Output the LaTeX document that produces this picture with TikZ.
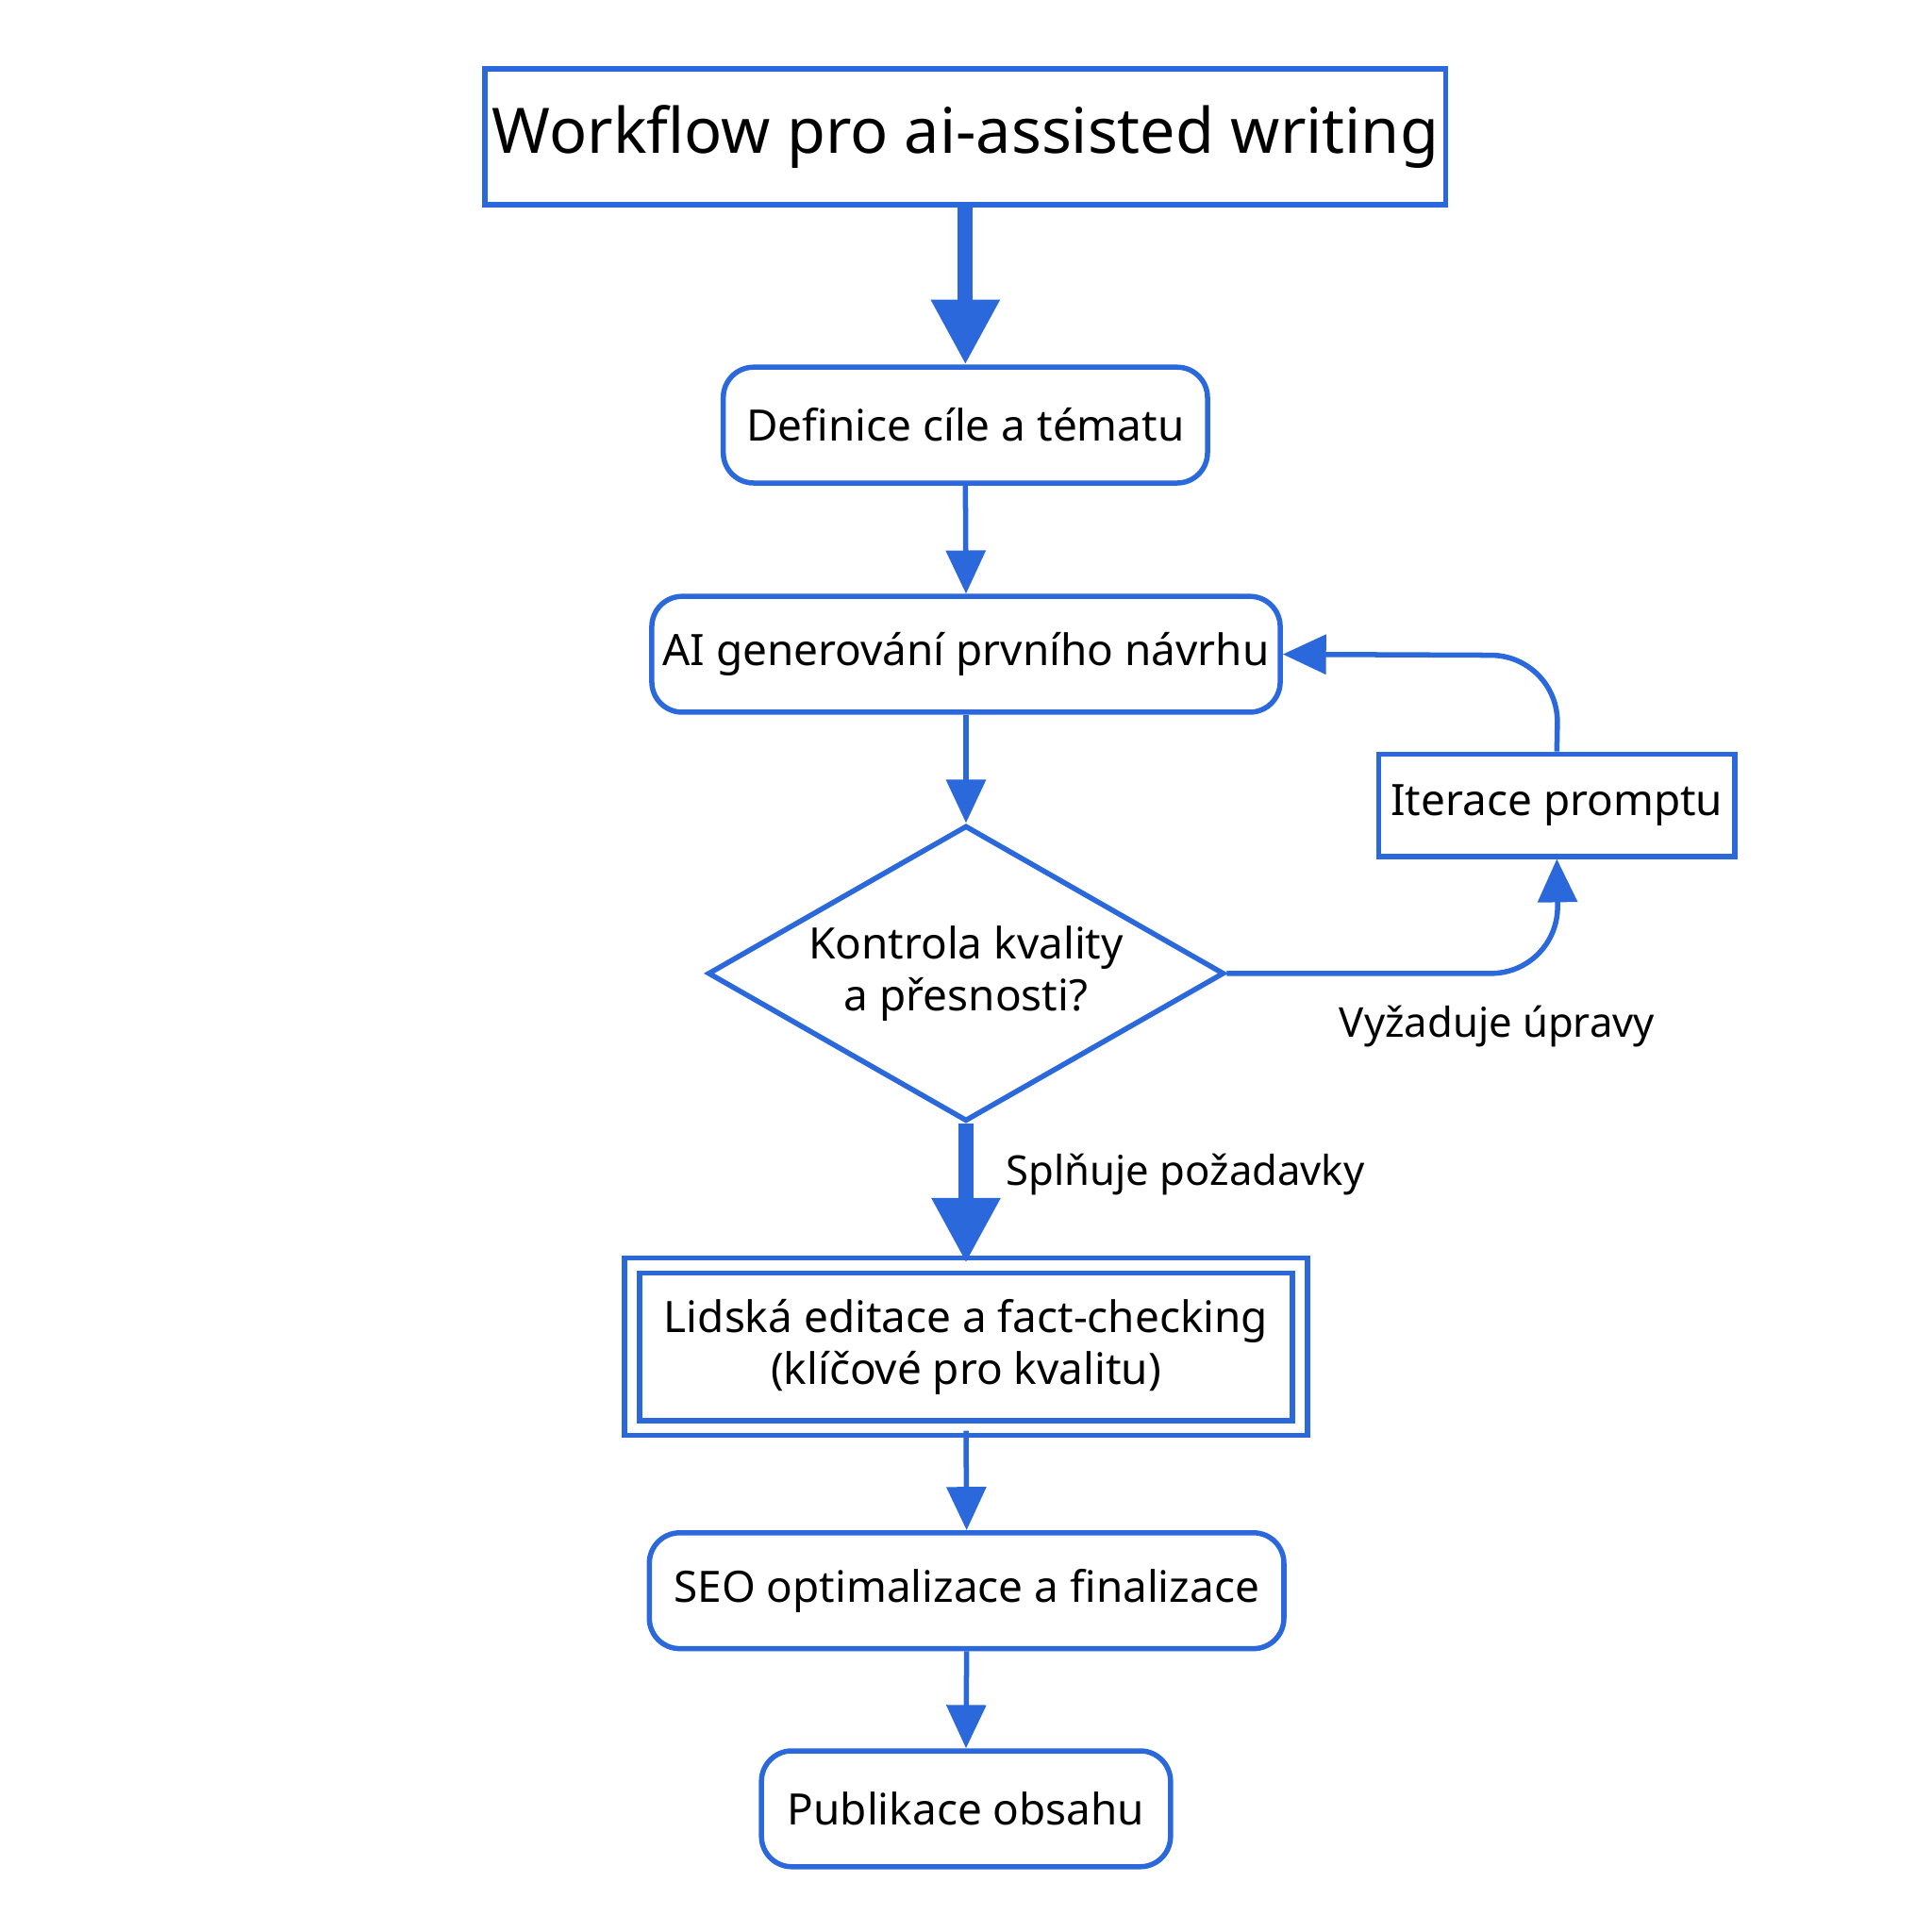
\documentclass[tikz,border=0pt]{standalone}
\usepackage{fontspec}
\setmainfont{Noto Sans}
\usetikzlibrary{arrows.meta,shapes.geometric,calc}
\definecolor{fb}{HTML}{2A68DC}
\begin{document}
\begin{tikzpicture}[x=0.02cm,y=-0.02cm,
  box/.style={draw=fb,line width=2.4pt,rounded corners=14pt,inner sep=0pt,font=\fontsize{20}{24}\selectfont},
  arr/.style={draw=fb,line width=2.4pt,-{Triangle[length=20pt,width=18pt]}},
  thick arr/.style={draw=fb,line width=7pt,-{Triangle[length=30pt,width=30pt]}},
  lab/.style={font=\fontsize{19}{23}\selectfont}]
\useasboundingbox (0,0) rectangle (1568,1568);
\fill[white] (0,0) rectangle (1568,1568);
\node[draw=fb,line width=2.4pt,minimum width=777*0.02cm,minimum height=110*0.02cm,font=\fontsize{29}{34}\selectfont] (t) at (783.5,111) {Workflow pro ai-assisted writing};
\node[box,minimum width=393*0.02cm,minimum height=94*0.02cm] (d) at (783.5,345) {Definice cíle a tématu};
\node[box,minimum width=510*0.02cm,minimum height=94*0.02cm] (a) at (784,531) {AI generování prvního návrhu};
\node[draw=fb,line width=2.4pt,diamond,aspect=1.75,minimum width=419*0.02cm,minimum height=240*0.02cm,inner sep=0pt,align=center,font=\fontsize{20}{24}\selectfont] (k) at (784,790) {Kontrola kvality\\a přesnosti?};
\node[draw=fb,line width=2.4pt,minimum width=289*0.02cm,minimum height=83*0.02cm,font=\fontsize{20}{24}\selectfont] (i) at (1263.5,653.5) {Iterace promptu};
\node[draw=fb,line width=2.4pt,double=white,double distance=4.5pt,minimum width=542*0.02cm,minimum height=132*0.02cm,align=center,font=\fontsize{20}{24}\selectfont] (l) at (784,1093) {Lidská editace a fact-checking\\(klíčové pro kvalitu)};
\node[box,minimum width=515*0.02cm,minimum height=94*0.02cm] (s) at (784.5,1291) {SEO optimalizace a finalizace};
\node[box,minimum width=332*0.02cm,minimum height=94*0.02cm] (p) at (784,1468) {Publikace obsahu};
\draw[thick arr] (t.south) -- (d.north);
\draw[arr] (d.south) -- (a.north);
\draw[arr] (a.south) -- (k.north);
\draw[thick arr] (k.south) -- (l.north);
\draw[arr] (l.south) -- (s.north);
\draw[arr] (s.south) -- (p.north);
\coordinate (c1) at (1210,790);
\coordinate (c2) at (1210,532);
\draw[arr,rounded corners=55*0.02cm] (k.east) -- (1265,790) -- (i.south);
\draw[arr,rounded corners=55*0.02cm] (i.north) -- (1265,532) -- (a.east);
\node[lab] (v) at (1215,833) {Vyžaduje úpravy};
\node[lab] (sp) at (962,953) {Splňuje požadavky};
\end{tikzpicture}
\end{document}
